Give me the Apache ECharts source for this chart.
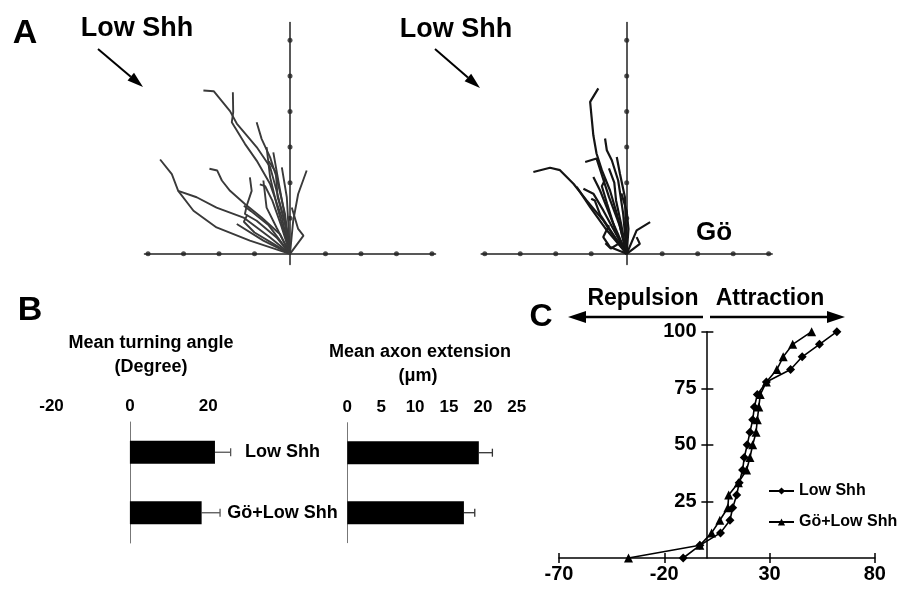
<!DOCTYPE html>
<html>
<head>
<meta charset="utf-8">
<script src="https://cdn.jsdelivr.net/npm/echarts@6/dist/echarts.min.js"></script>
<style>html,body{margin:0;padding:0;background:#fff}#chart{width:903px;height:592px}</style>
</head>
<body>
<div id="chart"></div>
<script>
var FONT = '"Liberation Sans", Arial, sans-serif';

// panel A: traced axon paths, one tick = 1 unit
var aTicksX = [-4, -3, -2, -1, 1, 2, 3, 4];
var aTicksY = [1, 2, 3, 4, 5, 6];
var lowShhTracks = [
    [[0,0],[-0.09,0.66],[-0.38,1.78],[-0.56,2.44],[-0.94,3.0],[-1.5,3.66],[-1.69,4.01],[-2.15,4.57],[-2.44,4.59]],
    [[0,0],[-0.23,1.02],[-0.56,1.96],[-0.94,2.62],[-1.27,3.09],[-1.64,3.7],[-1.6,3.98],[-1.61,4.54]],
    [[0,0],[-0.14,1.12],[-0.38,2.15],[-0.56,2.71],[-0.8,3.23],[-0.94,3.7]],
    [[0,0],[-0.56,0.46],[-1.31,1.02],[-2.07,1.3],[-2.63,1.59],[-3.15,1.77],[-3.33,2.24],[-3.66,2.65]],
    [[0,0],[-1.13,0.37],[-2.07,0.74],[-2.72,1.21],[-3.15,1.77]],
    [[0,0],[-0.28,0.55],[-0.8,1.02],[-1.27,1.4],[-1.69,1.77],[-1.92,2.06],[-2.05,2.34],[-2.27,2.39]],
    [[0,0],[0.09,0.93],[0.23,1.68],[0.47,2.34]],
    [[0,0],[0.38,0.51],[0.23,0.7],[0.05,1.3]],
    [[0,0],[-0.38,1.4],[-0.56,2.15],[-0.66,3.0]],
    [[0,0],[-0.19,1.3],[-0.33,2.06],[-0.47,2.85]],
    [[0,0],[-0.38,0.46],[-0.94,0.93],[-1.27,1.12],[-1.22,1.35],[-1.08,1.77],[-1.13,2.15]],
    [[0,0],[-0.38,0.74],[-0.66,1.3],[-0.75,2.06]],
    [[0,0],[-0.09,1.59],[-0.23,2.43]],
    [[0,0],[-0.75,0.37],[-1.5,0.84]],
    [[0,0],[-0.5,0.3],[-1.0,0.6],[-1.3,0.9],[-1.2,1.1]],
    [[0,0],[-0.15,0.9],[-0.35,1.6],[-0.4,2.3],[-0.6,2.6]],
    [[0,0],[-0.25,0.8],[-0.5,1.5],[-0.7,1.9],[-0.85,1.95]],
    [[0,0],[-0.6,0.8],[-1.1,1.2],[-1.3,1.35]]
];
var goTracks = [
    [[0,0],[-0.28,1.13],[-0.47,1.78],[-0.7,2.35],[-0.85,2.82],[-0.94,3.33],[-0.99,3.85],[-1.03,4.27],[-0.8,4.65]],
    [[0,0],[-0.28,0.37],[-0.66,0.94],[-1.13,1.5],[-1.5,1.97],[-1.88,2.35],[-2.16,2.42],[-2.63,2.3]],
    [[0,0],[-0.2,0.8],[-0.5,1.6],[-0.85,2.68],[-1.17,2.58]],
    [[0,0],[-0.1,1.13],[-0.24,2.06],[-0.42,2.63],[-0.56,2.91],[-0.61,3.24]],
    [[0,0],[-0.05,1.59],[-0.19,2.25],[-0.28,2.72]],
    [[0,0],[-0.66,1.22],[-0.94,1.69],[-1.22,1.83]],
    [[0,0],[-0.4,0.9],[-0.75,1.78],[-0.94,2.16]],
    [[0,0],[-0.56,0.66],[-1.03,1.31],[-1.41,1.88]],
    [[0,0],[0.37,0.28],[0.28,0.47]],
    [[0,0],[0.28,0.66],[0.66,0.89]],
    [[0,0],[-0.47,0.19],[-0.66,0.47],[-0.5,0.8]],
    [[0,0],[-0.3,0.6],[-0.55,1.4],[-0.7,1.9],[-0.6,2.1]],
    [[0,0],[-0.15,0.8],[-0.3,1.5],[-0.35,2.0],[-0.5,2.4]],
    [[0,0],[0.05,0.7],[0.0,1.2],[-0.15,1.7]],
    [[0,0],[-0.35,0.5],[-0.75,1.1],[-0.9,1.5],[-1.0,1.55]],
    [[0,0],[-0.2,0.3],[-0.45,0.15],[-0.6,0.3]]
];

// panel B
var groups = ['Low Shh', 'Gö+Low Shh'];
var turnAngle = [21.7, 18.3];
var turnAngleErr = [4.0, 4.7];
var axonExt = [19.4, 17.2];
var axonExtErr = [2.0, 1.6];
var turnTicks = [-20, 0, 20];
var extTicks = [0, 5, 10, 15, 20, 25];

// panel C: cumulative % of axons vs turning angle
var cumPct = [0, 5.6, 11.1, 16.7, 22.2, 27.8, 33.3, 38.9, 44.4, 50, 55.6, 61.1, 66.7, 72.2, 77.8, 83.3, 88.9, 94.4, 100];
var lowShhAngles = [-11, -3.1, 6.7, 11.2, 12.5, 14.4, 15.6, 17.2, 18, 19.4, 20.7, 22, 22.8, 24.2, 28.5, 40, 45.5, 53.7, 62];
var goAngles = [-37, -3.1, 2.5, 6.4, 10.2, 10.6, 15.2, 19.1, 20.7, 22, 23.6, 24.2, 24.9, 25.6, 28.5, 33.5, 36.5, 41, 50];
var cTicksX = [-70, -20, 30, 80];
var cTicksY = [25, 50, 75, 100];

function pairs(xs, ys) {
    return xs.map(function (x, i) { return [x, ys[i]]; });
}

function errBar(color) {
    return function (params, api) {
        var p0 = api.coord([api.value(0), api.value(1)]);
        var p1 = api.coord([api.value(0) + api.value(2), api.value(1)]);
        var st = { stroke: color, lineWidth: 1.3 };
        return {
            type: 'group',
            children: [
                { type: 'line', shape: { x1: p0[0], y1: p0[1], x2: p1[0], y2: p1[1] }, style: st },
                { type: 'line', shape: { x1: p1[0], y1: p1[1] - 4, x2: p1[0], y2: p1[1] + 4 }, style: st }
            ]
        };
    };
}

function arrow(x1, y1, x2, y2, len, half, w) {
    var a = Math.atan2(y2 - y1, x2 - x1), c = Math.cos(a), s = Math.sin(a);
    var bx = x2 - len * c, by = y2 - len * s;
    return [
        { type: 'line', shape: { x1: x1, y1: y1, x2: bx, y2: by }, style: { stroke: '#000', lineWidth: w } },
        { type: 'polygon', shape: { points: [[x2, y2], [bx - half * s, by + half * c], [bx + half * s, by - half * c]] }, style: { fill: '#000' } }
    ];
}

function txt(x, y, text, size, align) {
    return {
        type: 'text', x: x, y: y,
        style: { text: text, font: 'bold ' + size + 'px ' + FONT, fill: '#000', textAlign: align || 'center', textVerticalAlign: 'middle' }
    };
}

function trackAxes(grid) {
    var line = { onZero: true, lineStyle: { color: '#222', width: 1.5 } };
    return [
        { type: 'value', gridIndex: grid, min: -4.1, max: 4.1, axisLine: line, axisTick: { show: false }, axisLabel: { show: false }, splitLine: { show: false } },
        { type: 'value', gridIndex: grid, min: -0.3, max: 6.5, axisLine: line, axisTick: { show: false }, axisLabel: { show: false }, splitLine: { show: false } }
    ];
}

var chart = echarts.init(document.getElementById('chart'));

var series = [];
[lowShhTracks, goTracks].forEach(function (tracks, g) {
    tracks.forEach(function (t) {
        series.push({
            type: 'line', xAxisIndex: g, yAxisIndex: g, data: t, symbol: 'none', silent: true,
            lineStyle: { color: g ? '#151515' : '#3a3a3a', width: g ? 2.2 : 1.9 }
        });
    });
    series.push({
        type: 'scatter', xAxisIndex: g, yAxisIndex: g, symbolSize: 5, itemStyle: { color: '#222' },
        data: aTicksX.map(function (v) { return [v, 0]; }).concat(aTicksY.map(function (v) { return [0, v]; }))
    });
});

series.push(
    { type: 'bar', name: 'turning', xAxisIndex: 2, yAxisIndex: 2, data: turnAngle, barWidth: 23, itemStyle: { color: '#000' } },
    { type: 'custom', xAxisIndex: 2, yAxisIndex: 2, renderItem: errBar('#555'), encode: { x: 0, y: 1 },
      data: turnAngle.map(function (v, i) { return [v, i, turnAngleErr[i]]; }) },
    { type: 'bar', name: 'extension', xAxisIndex: 3, yAxisIndex: 3, data: axonExt, barWidth: 23, itemStyle: { color: '#000' } },
    { type: 'custom', xAxisIndex: 3, yAxisIndex: 3, renderItem: errBar('#333'), encode: { x: 0, y: 1 },
      data: axonExt.map(function (v, i) { return [v, i, axonExtErr[i]]; }) },
    { type: 'line', name: 'Low Shh', xAxisIndex: 4, yAxisIndex: 4, data: pairs(lowShhAngles, cumPct),
      symbol: 'diamond', symbolSize: 9, itemStyle: { color: '#000' }, lineStyle: { color: '#000', width: 1.6 } },
    { type: 'line', name: 'Gö+Low Shh', xAxisIndex: 4, yAxisIndex: 4, data: pairs(goAngles, cumPct),
      symbol: 'triangle', symbolSize: 9, itemStyle: { color: '#000' }, lineStyle: { color: '#000', width: 1.6 } }
);

var ta = trackAxes(0), tb = trackAxes(1);
var bAxisLine = { lineStyle: { color: '#777', width: 1 } };
var bLabel = { color: '#000', fontWeight: 'bold', fontSize: 17, fontFamily: FONT, margin: 7 };
var cAxisLine = { onZero: true, lineStyle: { color: '#000', width: 1.5 } };
var cLabel = { color: '#000', fontWeight: 'bold', fontSize: 20, fontFamily: FONT };

var graphics = [
    txt(25, 34, 'A', 34), txt(30, 311, 'B', 34), txt(541, 317, 'C', 32),
    txt(137, 29, 'Low Shh', 27), txt(456, 30, 'Low Shh', 27), txt(714, 233, 'Gö', 26),
    txt(151, 343, 'Mean turning angle', 18), txt(151, 367, '(Degree)', 18),
    txt(420, 352, 'Mean axon extension', 18), txt(418, 376, '(μm)', 18),
    txt(643, 299, 'Repulsion', 23), txt(770, 299, 'Attraction', 23)
].concat(
    arrow(98, 49, 143, 87, 16, 5, 2),
    arrow(435, 49, 480, 88, 16, 5, 2),
    arrow(703, 317, 568, 317, 18, 6, 2.5),
    arrow(710, 317, 845, 317, 18, 6, 2.5)
);

chart.setOption({
    animation: false,
    textStyle: { fontFamily: FONT },
    grid: [
        { left: 144.5, top: 22.5, width: 291, height: 242 },
        { left: 481.2, top: 22.5, width: 291, height: 242 },
        { left: 51.5, top: 422, width: 196, height: 121 },
        { left: 347.3, top: 422.7, width: 169.5, height: 120 },
        { left: 559, top: 331.7, width: 315.8, height: 226.3 }
    ],
    xAxis: [
        ta[0], tb[0],
        { type: 'value', gridIndex: 2, position: 'top', min: -20, max: 30, axisLine: bAxisLine,
          axisTick: { inside: true, length: 5, customValues: turnTicks, lineStyle: { color: '#777' } },
          axisLabel: Object.assign({ customValues: turnTicks }, bLabel), splitLine: { show: false } },
        { type: 'value', gridIndex: 3, position: 'top', min: 0, max: 25, axisLine: bAxisLine,
          axisTick: { inside: true, length: 5, customValues: extTicks, lineStyle: { color: '#777' } },
          axisLabel: Object.assign({ customValues: extTicks }, bLabel), splitLine: { show: false } },
        { type: 'value', gridIndex: 4, position: 'bottom', min: -70, max: 80, axisLine: cAxisLine,
          axisTick: { length: 5, customValues: cTicksX, lineStyle: { color: '#000', width: 1.5 } },
          axisLabel: Object.assign({ customValues: cTicksX, margin: 6 }, cLabel), splitLine: { show: false } },
        { type: 'value', gridIndex: 4, position: 'top', min: -70, max: 80, axisLine: { onZero: true, show: false },
          axisTick: { length: 5, customValues: cTicksX, lineStyle: { color: '#000', width: 1.5 } },
          axisLabel: { show: false }, splitLine: { show: false } }
    ],
    yAxis: [
        ta[1], tb[1],
        { type: 'category', gridIndex: 2, data: groups, inverse: true, axisLine: bAxisLine,
          axisTick: { length: 4, lineStyle: { color: '#777' } },
          axisLabel: { inside: true, margin: 231, align: 'center', color: '#000', fontWeight: 'bold', fontSize: 18, fontFamily: FONT } },
        { type: 'category', gridIndex: 3, data: groups, inverse: true, axisLine: bAxisLine,
          axisTick: { length: 4, lineStyle: { color: '#777' } }, axisLabel: { show: false } },
        { type: 'value', gridIndex: 4, position: 'left', min: 0, max: 100, axisLine: cAxisLine,
          axisTick: { length: 5, customValues: cTicksY, lineStyle: { color: '#000', width: 1.5 } },
          axisLabel: Object.assign({ customValues: cTicksY, margin: -137.5 }, cLabel), splitLine: { show: false } },
        { type: 'value', gridIndex: 4, position: 'right', min: 0, max: 100, axisLine: { onZero: true, show: false },
          axisTick: { length: 7, customValues: cTicksY, lineStyle: { color: '#000', width: 1.5 } },
          axisLabel: { show: false }, splitLine: { show: false } }
    ],
    legend: {
        data: ['Low Shh', 'Gö+Low Shh'], orient: 'vertical', left: 763, top: 478, itemGap: 15,
        itemWidth: 25, itemHeight: 9, textStyle: { color: '#000', fontWeight: 'bold', fontSize: 16, fontFamily: FONT }
    },
    graphic: graphics,
    series: series
});
</script>
</body>
</html>
